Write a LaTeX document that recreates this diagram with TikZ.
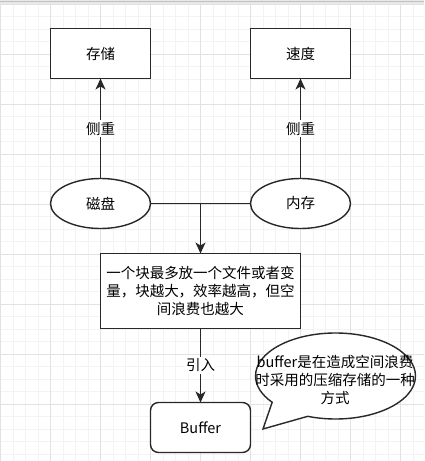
\documentclass[tikz,border=0pt]{standalone}
\usepackage{fontspec}
\setmainfont{Noto Sans CJK SC}
\usetikzlibrary{arrows.meta,positioning,calc,shapes.geometric,shapes.callouts}
\definecolor{linedark}{RGB}{40,40,40}
\definecolor{gridminor}{RGB}{243,243,243}
\definecolor{gridmajor}{RGB}{226,226,226}
\definecolor{topband}{RGB}{232,232,232}
\newcommand{\diagfont}{\fontsize{14.5}{18}\selectfont}
\tikzset{
  >={Stealth[length=11pt,width=10pt,inset=3pt]},
  flow/.style={->, line width=1.4pt, draw=linedark},
  link/.style={line width=1.4pt, draw=linedark},
  plainbox/.style={draw=linedark, line width=1.4pt, fill=white, minimum width=100pt,
    minimum height=50pt, inner sep=0pt, outer sep=0pt, font=\diagfont, align=center},
  diskshape/.style={plainbox, ellipse},
  infobox/.style={plainbox, minimum width=200pt, minimum height=75pt},
  roundbox/.style={plainbox, rounded corners=8pt},
  bubble/.style={ellipse callout, draw=linedark, line width=1.4pt, fill=white,
    minimum width=160pt, minimum height=86pt, inner sep=0pt, callout pointer arc=32},
  notetext/.style={font=\diagfont, align=center, inner sep=0pt},
  edgelabel/.style={fill=white, inner sep=1.5pt, font=\diagfont},
  minorgrid/.style={draw=gridminor, line width=0.8pt},
  majorgrid/.style={draw=gridmajor, line width=0.8pt}
}
\begin{document}
\begin{tikzpicture}[x=1pt, y=-1pt, node distance=100pt]
  \useasboundingbox (0,0) rectangle (424,461);

  % Canvas grid.
  \fill[white] (0,0) rectangle (424,461);
  \foreach \k in {0,...,33} {
    \draw[minorgrid] ({0.5+12.5*\k},4) -- ({0.5+12.5*\k},461);
  }
  \foreach \k in {0,...,36} {
    \draw[minorgrid] (0,{4+12.5*\k}) -- (424,{4+12.5*\k});
  }
  \foreach \k in {0,...,8} {
    \draw[majorgrid] ({0.5+50*\k},4) -- ({0.5+50*\k},461);
    \draw[majorgrid] (0,{4+50*\k}) -- (424,{4+50*\k});
  }
  \fill[topband] (0,0) rectangle (424,3.5);
  \draw[draw=gridmajor!85!black, line width=0.8pt] (0,1) -- (424,1);

  % Top row and the two media.
  \node[plainbox] (store) at (100.5,53.5) {存储};
  \node[plainbox, right=of store] (speed) {速度};
  \node[diskshape, below=of store] (disk) {磁盘};
  \node[diskshape, below=of speed] (mem) {内存};

  % Block note and buffer.
  \coordinate (join) at ($(disk.east)!0.5!(mem.west)$);
  \node[infobox, below=50pt of join] (info) {一个块最多放一个文件或者变\\量，块越大，效率越高，但空\\间浪费也越大};
  \node[roundbox, below=74pt of info] (buf) {Buffer};

  % Speech bubble.
  \node[bubble, callout absolute pointer={(263,429)}] (callout) at (335.5,376) {};
  \node[notetext] (note) at (335,380) {buffer是在造成空间浪费\\时采用的压缩存储的一种\\方式};

  % Connectors.
  \draw[flow] (disk) -- node[edgelabel] {侧重} (store);
  \draw[flow] (mem) -- node[edgelabel] {侧重} (speed);
  \draw[link] (disk.east) -- (mem.west);
  \draw[flow] (join) -- (info.north);
  \draw[flow] (info) -- node[edgelabel] {引入} (buf);
\end{tikzpicture}
\end{document}
